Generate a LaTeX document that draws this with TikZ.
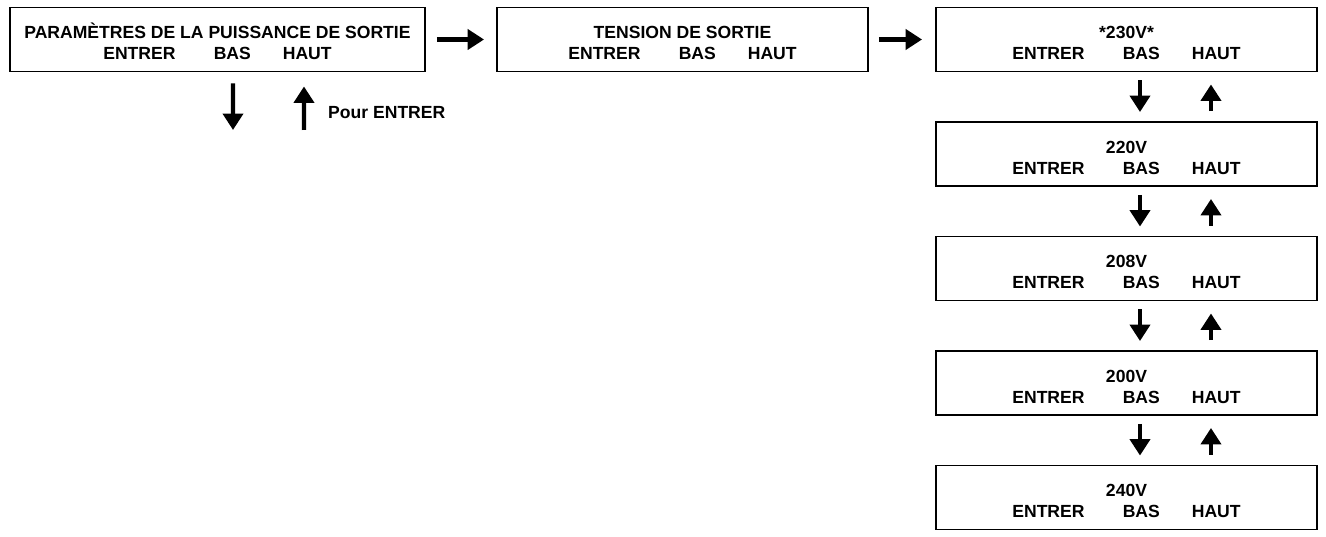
\documentclass[tikz,border=0pt]{standalone}
\usepackage{fontspec}
\setmainfont{Liberation Sans}
\usetikzlibrary{arrows.meta, positioning}
\newcommand{\keyrow}{ENTRER\hspace{0.764cm}BAS\hspace{0.64cm}HAUT}
\newcommand{\screentext}[1]{\rule{0pt}{11.2pt}#1\\ \keyrow}

\begin{document}
\begin{tikzpicture}[
        x=0.02cm, y=-0.02cm,
        screen/.style={draw, line width=1.1pt, minimum height=1.28cm, inner sep=0pt, align=center, font=\fontsize{10}{11.8}\selectfont\bfseries},
        arrow/.style={-{Triangle[width=0.4cm, length=0.33cm]}, line width=2.5pt}
    ]
        \useasboundingbox (0,0) rectangle (1326,537);

        % Output power menu
        \node[screen, minimum width=8.3cm] (params) at (217.5,39.5) {
            \screentext{PARAMÈTRES DE LA PUISSANCE DE SORTIE}
        };

        % Output voltage menu
        \node[screen, minimum width=7.42cm] (tension) at (682.5,39.5) {
            \screentext{TENSION DE SORTIE}
        };

        % Voltage choices
        \node[screen, minimum width=7.62cm] (v230) at (1126.5,39.5) {
            \screentext{*230V*}
        };
        \node[screen, minimum width=7.62cm] (v220) at (1126.5,154) {
            \screentext{220V}
        };
        \node[screen, minimum width=7.62cm] (v208) at (1126.5,268.5) {
            \screentext{208V}
        };
        \node[screen, minimum width=7.62cm] (v200) at (1126.5,383) {
            \screentext{200V}
        };
        \node[screen, minimum width=7.62cm] (v240) at (1126.5,497.5) {
            \screentext{240V}
        };

        % Arrows along the top
        \draw[arrow, shorten <=0.22cm, shorten >=0.24cm] (params) -- (tension);
        \draw[arrow, shorten <=0.2cm, shorten >=0.26cm] (tension) -- (v230);

        % Down / up from the first menu
        \coordinate (down end) at (233,130);
        \coordinate (up start) at (304,130);
        \draw[arrow, shorten <=0.22cm] ([xshift=0.31cm]params.south) -- (down end);
        \draw[arrow, shorten >=0.28cm] (up start) -- ([xshift=1.73cm]params.south);
        \node[anchor=west, font=\fontsize{10}{11.8}\selectfont\bfseries] (enter note) at (322,113) {Pour ENTRER};

        % Down / up between the voltages
        \draw[arrow, shorten <=0.16cm, shorten >=0.18cm] ([xshift=0.27cm]v230.south) -- ([xshift=0.27cm]v220.north);
        \draw[arrow, shorten <=0.2cm, shorten >=0.24cm] ([xshift=1.69cm]v220.north) -- ([xshift=1.69cm]v230.south);
        \draw[arrow, shorten <=0.16cm, shorten >=0.18cm] ([xshift=0.27cm]v220.south) -- ([xshift=0.27cm]v208.north);
        \draw[arrow, shorten <=0.2cm, shorten >=0.24cm] ([xshift=1.69cm]v208.north) -- ([xshift=1.69cm]v220.south);
        \draw[arrow, shorten <=0.16cm, shorten >=0.18cm] ([xshift=0.27cm]v208.south) -- ([xshift=0.27cm]v200.north);
        \draw[arrow, shorten <=0.2cm, shorten >=0.24cm] ([xshift=1.69cm]v200.north) -- ([xshift=1.69cm]v208.south);
        \draw[arrow, shorten <=0.16cm, shorten >=0.18cm] ([xshift=0.27cm]v200.south) -- ([xshift=0.27cm]v240.north);
        \draw[arrow, shorten <=0.2cm, shorten >=0.24cm] ([xshift=1.69cm]v240.north) -- ([xshift=1.69cm]v200.south);
    \end{tikzpicture}
\end{document}
